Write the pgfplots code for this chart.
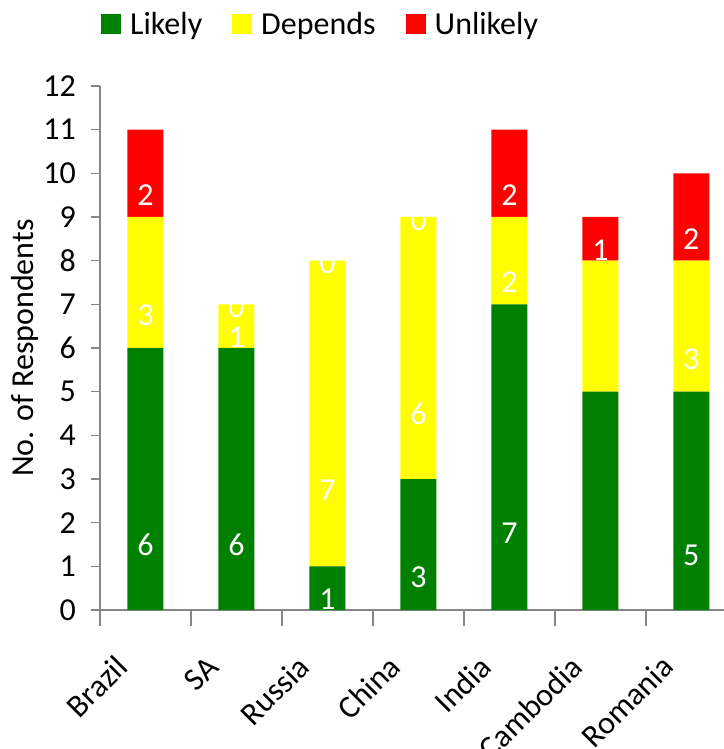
\documentclass[border=0pt]{standalone}
\usepackage{pgfplots}
\pgfplotsset{compat=1.18}
\usepackage{pgfplotstable}
\usepackage{fontspec}
\setmainfont{Carlito}

\definecolor{likely}{RGB}{0,128,0}
\definecolor{depends}{RGB}{255,255,0}
\definecolor{unlikely}{RGB}{255,0,0}
\definecolor{axisgray}{RGB}{134,134,134}

% x: country index, y: respondents, lab: printed value (blank = not shown)
\pgfplotstableread{
x y lab
0 6 6
1 6 6
2 1 1
3 3 3
4 7 7
5 5 {}
6 5 5
}\likelytab
\pgfplotstableread{
x y lab
0 3 3
1 1 1
2 7 7
3 6 6
4 2 2
5 3 {}
6 3 3
}\dependstab
\pgfplotstableread{
x y lab
0 2 2
1 0 0
2 0 0
3 0 0
4 2 2
5 1 1
6 2 2
}\unlikelytab
% empty "Unlikely" segments: label sits on the bar top (total of the column)
\pgfplotstableread{
x y
1 7
2 8
3 9
}\zerotab

% legend key: a 20bp square followed by a small gap
\newcommand{\keysquare}[1]{\fill[#1] (0bp,-10bp) rectangle (20bp,10bp); \path (27bp,0bp);}

\pgfplotsset{
  chartframe/.style={
    scale only axis, width=625bp, height=524bp,
    xmin=-0.5, xmax=6.37, ymin=0, ymax=12,
  },
}

\begin{document}
\begin{tikzpicture}[font=\fontsize{32bp}{38bp}\selectfont]
\begin{axis}[
  name=ax, chartframe,
  ybar stacked, bar width=36bp,
  axis lines*=left,
  axis line style={axisgray, line width=1.5bp},
  tick style={axisgray, line width=1.5bp},
  tick align=outside,
  major tick length=9bp, minor tick length=16bp,
  major x tick style={draw=none},
  ytick={0,...,12},
  xtick={0,...,6},
  minor xtick={-0.5,0.5,...,5.5},
  xticklabels={Brazil,SA,Russia,China,India,Cambodia,Romania},
  xticklabel style={xshift=-16bp, yshift=-50bp, rotate=45, anchor=base east, inner sep=0pt},
  /pgf/number format/assume math mode=true,
  yticklabel style={inner sep=0pt, xshift=-15bp},
  ylabel={No. of Respondents},
  ylabel style={at={(axis description cs:-0.12,0.5)}, anchor=center, rotate=0},
  point meta=explicit symbolic,
  nodes near coords,
  visualization depends on=rawy\as\rawy,
  % the style is applied twice, so a quarter of the segment gives its middle
  every node near coord/.append style={white, anchor=center, inner sep=0pt,
    yshift={-10.9167bp*\rawy}},
  legend columns=-1,
  legend style={at={(axis description cs:0,1)}, anchor=south west,
    xshift=1bp, yshift=48bp, draw=none, fill=none, inner sep=0pt,
    /tikz/every even column/.append style={column sep=28bp}},
]
\addplot[fill=likely, draw=none, legend image code/.code={\keysquare{likely}}]
  table[x=x, y=y, meta=lab] {\likelytab};
\addplot[fill=depends, draw=none, legend image code/.code={\keysquare{depends}}]
  table[x=x, y=y, meta=lab] {\dependstab};
\addplot[fill=unlikely, draw=none, legend image code/.code={\keysquare{unlikely}}]
  table[x=x, y=y, meta=lab] {\unlikelytab};
\legend{Likely, Depends, Unlikely}
\end{axis}
\begin{axis}[chartframe, at={(ax.south west)}, anchor=south west, hide axis]
\addplot[only marks, mark=text, text mark={0}, text mark as node=true,
  text mark style={white, font=\fontsize{32bp}{38bp}\selectfont, inner sep=0pt, anchor=center, yshift=-3bp}]
  table[x=x, y=y] {\zerotab};
\end{axis}
\pgfresetboundingbox
\path[use as bounding box] (ax.south west) ++(-100bp,-139bp) rectangle ++(724bp,749bp);
\end{tikzpicture}
\end{document}
